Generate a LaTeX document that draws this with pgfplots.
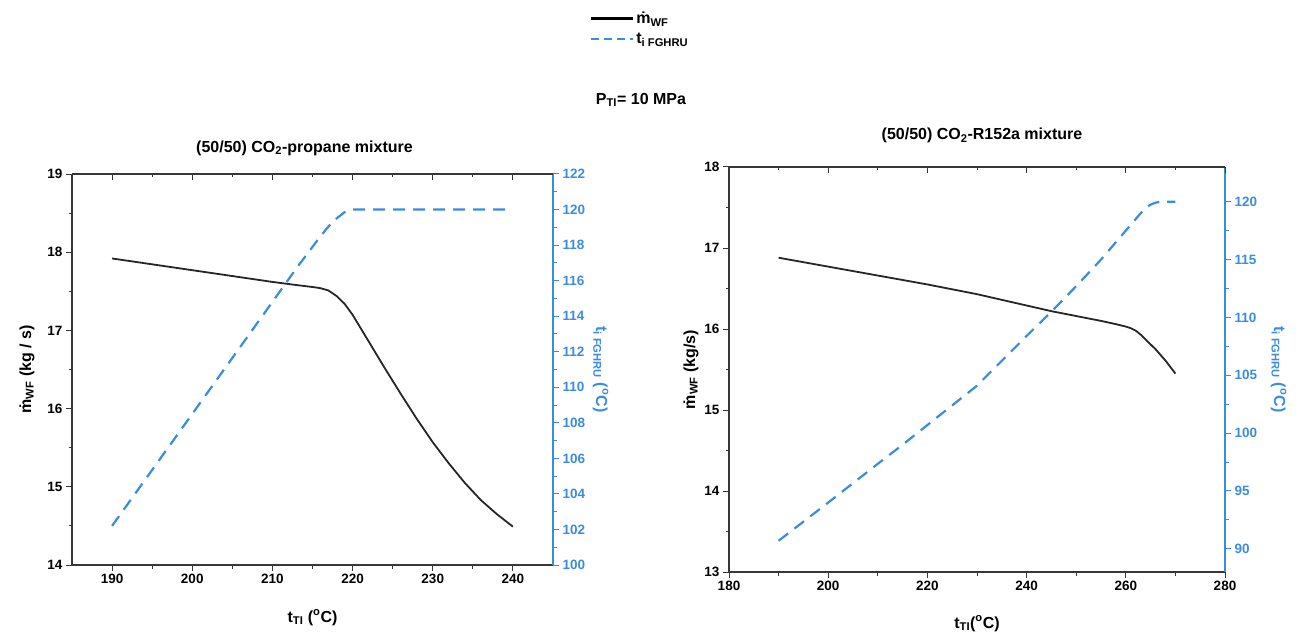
\documentclass[border=0pt]{standalone}
\usepackage{fontspec}
\setmainfont{Liberation Sans}
\usepackage{pgfplots}
\pgfplotsset{compat=1.18}

\definecolor{tblue}{RGB}{58,140,222}
\definecolor{axgray}{RGB}{55,55,55}

\newcommand{\mdot}{\.{m}}
\newcommand{\degC}{(\textsuperscript{o}C)}

\pgfplotsset{
  base/.style={
    scale only axis,
    anchor=north west,
    /pgf/number format/assume math mode=true,
    tick label style={font=\fontsize{13.5}{14}\selectfont\bfseries},
    label style={font=\fontsize{16}{18}\selectfont\bfseries},
    title style={font=\fontsize{16}{18}\selectfont\bfseries},
    major tick length=6pt,
    minor tick length=3.5pt,
    every tick/.append style={line width=1pt},
    axis line style={-, line width=1.2pt},
    tick align=outside,
    scaled ticks=false,
  },
  mflow/.style={black!85, line width=1.8pt},
  tgas/.style={tblue, line width=2.2pt, dash pattern=on 12pt off 8pt},
  blueaxis/.style={
    axis x line=none, axis y line*=right,
    y axis line style={tblue},
    every y tick/.append style={tblue},
    yticklabel style={tblue},
    ylabel style={tblue, rotate=180, anchor=base},
  },
  topaxis/.style={
    axis x line*=top, axis y line=none, tick align=inside,
    x axis line style={axgray}, every x tick/.append style={axgray},
    xticklabels={}, ymin=0, ymax=1,
  },
}

\begin{document}
\begin{tikzpicture}
\path[use as bounding box] (0pt,0pt) rectangle (1304pt,-639pt);

% ---------------- (50/50) CO2-propane ----------------
\begin{axis}[base, at={(72pt,-174pt)}, width=481pt, height=391pt,
  xmin=185, xmax=245, ymin=14, ymax=19,
  xtick={190,200,...,240}, ytick={14,15,...,19},
  minor x tick num=1, minor y tick num=1,
  axis x line*=bottom, axis y line*=left,
  axis line style={axgray}, every tick/.append style={axgray},
  xlabel={t\textsubscript{TI} \degC},
  xlabel style={at={(0.5,0)}, anchor=base, yshift=-57pt},
  ylabel={\mdot\textsubscript{WF} (kg / s)},
  ylabel style={at={(-0.0852,0.5)}, anchor=base},
  title={(50/50) CO\textsubscript{2}-propane mixture},
  title style={at={(0.5,1)}, anchor=base, yshift=16pt, xshift=-8pt},
  legend style={at={(1.0769,1.42)}, anchor=north west, draw=none, fill=none,
    font=\fontsize{16}{18}\selectfont\bfseries, row sep=4pt, inner sep=0pt,
    cells={anchor=west}},
  legend image code/.code={\draw[#1] (0pt,0pt) -- (42pt,0pt);},
]
\addplot[mflow, forget plot] coordinates {
 (190,17.92) (195,17.845) (200,17.77) (205,17.695) (210,17.62) (213,17.58)
 (215,17.555) (216,17.54) (217,17.51) (218,17.44) (219,17.34) (220,17.20)
 (221,17.03) (222,16.86) (224,16.52) (226,16.19) (228,15.87) (230,15.57)
 (232,15.30) (234,15.05) (236,14.83) (238,14.65) (240,14.49)
};
\addlegendimage{black, line width=2.2pt}
\addlegendentry{\mdot\textsubscript{WF}}
\addlegendimage{tblue, line width=2.2pt, dash pattern=on 8pt off 5pt}
\addlegendentry{t\textsubscript{i FGHRU}}
\end{axis}

\begin{axis}[base, blueaxis, at={(72pt,-174pt)}, width=481pt, height=391pt,
  xmin=185, xmax=245, ymin=100, ymax=122,
  ytick={100,102,...,122}, minor y tick num=1,
  ylabel={t\textsubscript{i FGHRU} \degC},
  ylabel style={at={(1.0894,0.5)}},
]
\addplot[tgas] coordinates {
 (190,102.2) (195,105.35) (200,108.5) (205,111.65) (210,114.8) (213,116.7)
 (215,117.9) (216,118.5) (217,119.05) (218,119.5) (219,119.85) (220,120)
 (225,120) (230,120) (235,120) (240,120)
};
\end{axis}

\begin{axis}[base, topaxis, at={(72pt,-174pt)}, width=481pt, height=391pt,
  xmin=185, xmax=245, xtick={190,200,...,240}, minor x tick num=1]
\end{axis}

% ---------------- (50/50) CO2-R152a ----------------
\begin{axis}[base, at={(729pt,-167pt)}, width=496pt, height=405pt,
  xmin=180, xmax=280, ymin=13, ymax=18,
  xtick={180,200,...,280}, ytick={13,14,...,18},
  minor x tick num=1, minor y tick num=1,
  axis x line*=bottom, axis y line*=left,
  axis line style={axgray}, every tick/.append style={axgray},
  xlabel={t\textsubscript{TI}\degC},
  xlabel style={at={(0.5,0)}, anchor=base, yshift=-56pt},
  ylabel={\mdot\textsubscript{WF} (kg/s)},
  ylabel style={at={(-0.0685,0.5)}, anchor=base},
  title={(50/50) CO\textsubscript{2}-R152a mixture},
  title style={at={(0.5,1)}, anchor=base, yshift=21pt, xshift=5pt},
]
\addplot[mflow] coordinates {
 (190,16.88) (200,16.77) (210,16.66) (220,16.55) (230,16.43) (240,16.29)
 (245,16.22) (250,16.16) (255,16.10) (258,16.06) (260,16.03) (261,16.01)
 (262,15.98) (263,15.93) (264,15.87) (265,15.81) (266,15.75) (267,15.68)
 (268,15.61) (269,15.53) (270,15.45)
};
\end{axis}

\begin{axis}[base, blueaxis, at={(729pt,-167pt)}, width=496pt, height=405pt,
  xmin=180, xmax=280, ymin=88, ymax=123,
  ytick={90,95,...,120}, minor y tick num=1,
  ylabel={t\textsubscript{i FGHRU} \degC},
  ylabel style={at={(1.099,0.5)}},
]
\addplot[tgas] coordinates {
 (190,90.7) (200,94.0) (210,97.35) (215,99.0) (220,100.7) (230,104.1)
 (240,108.4) (245,110.5) (250,112.7) (255,115.0) (258,116.5) (260,117.5)
 (262,118.5) (263,119.0) (264,119.45) (265,119.75) (266,119.92) (267,120)
 (270,120)
};
\end{axis}

\begin{axis}[base, topaxis, at={(729pt,-167pt)}, width=496pt, height=405pt,
  xmin=180, xmax=280, xtick={180,200,...,280}, minor x tick num=1]
\end{axis}

\node[font=\fontsize{16}{18}\selectfont\bfseries] at (641pt,-100pt)
  {P\textsubscript{TI}= 10 MPa};
\end{tikzpicture}
\end{document}
